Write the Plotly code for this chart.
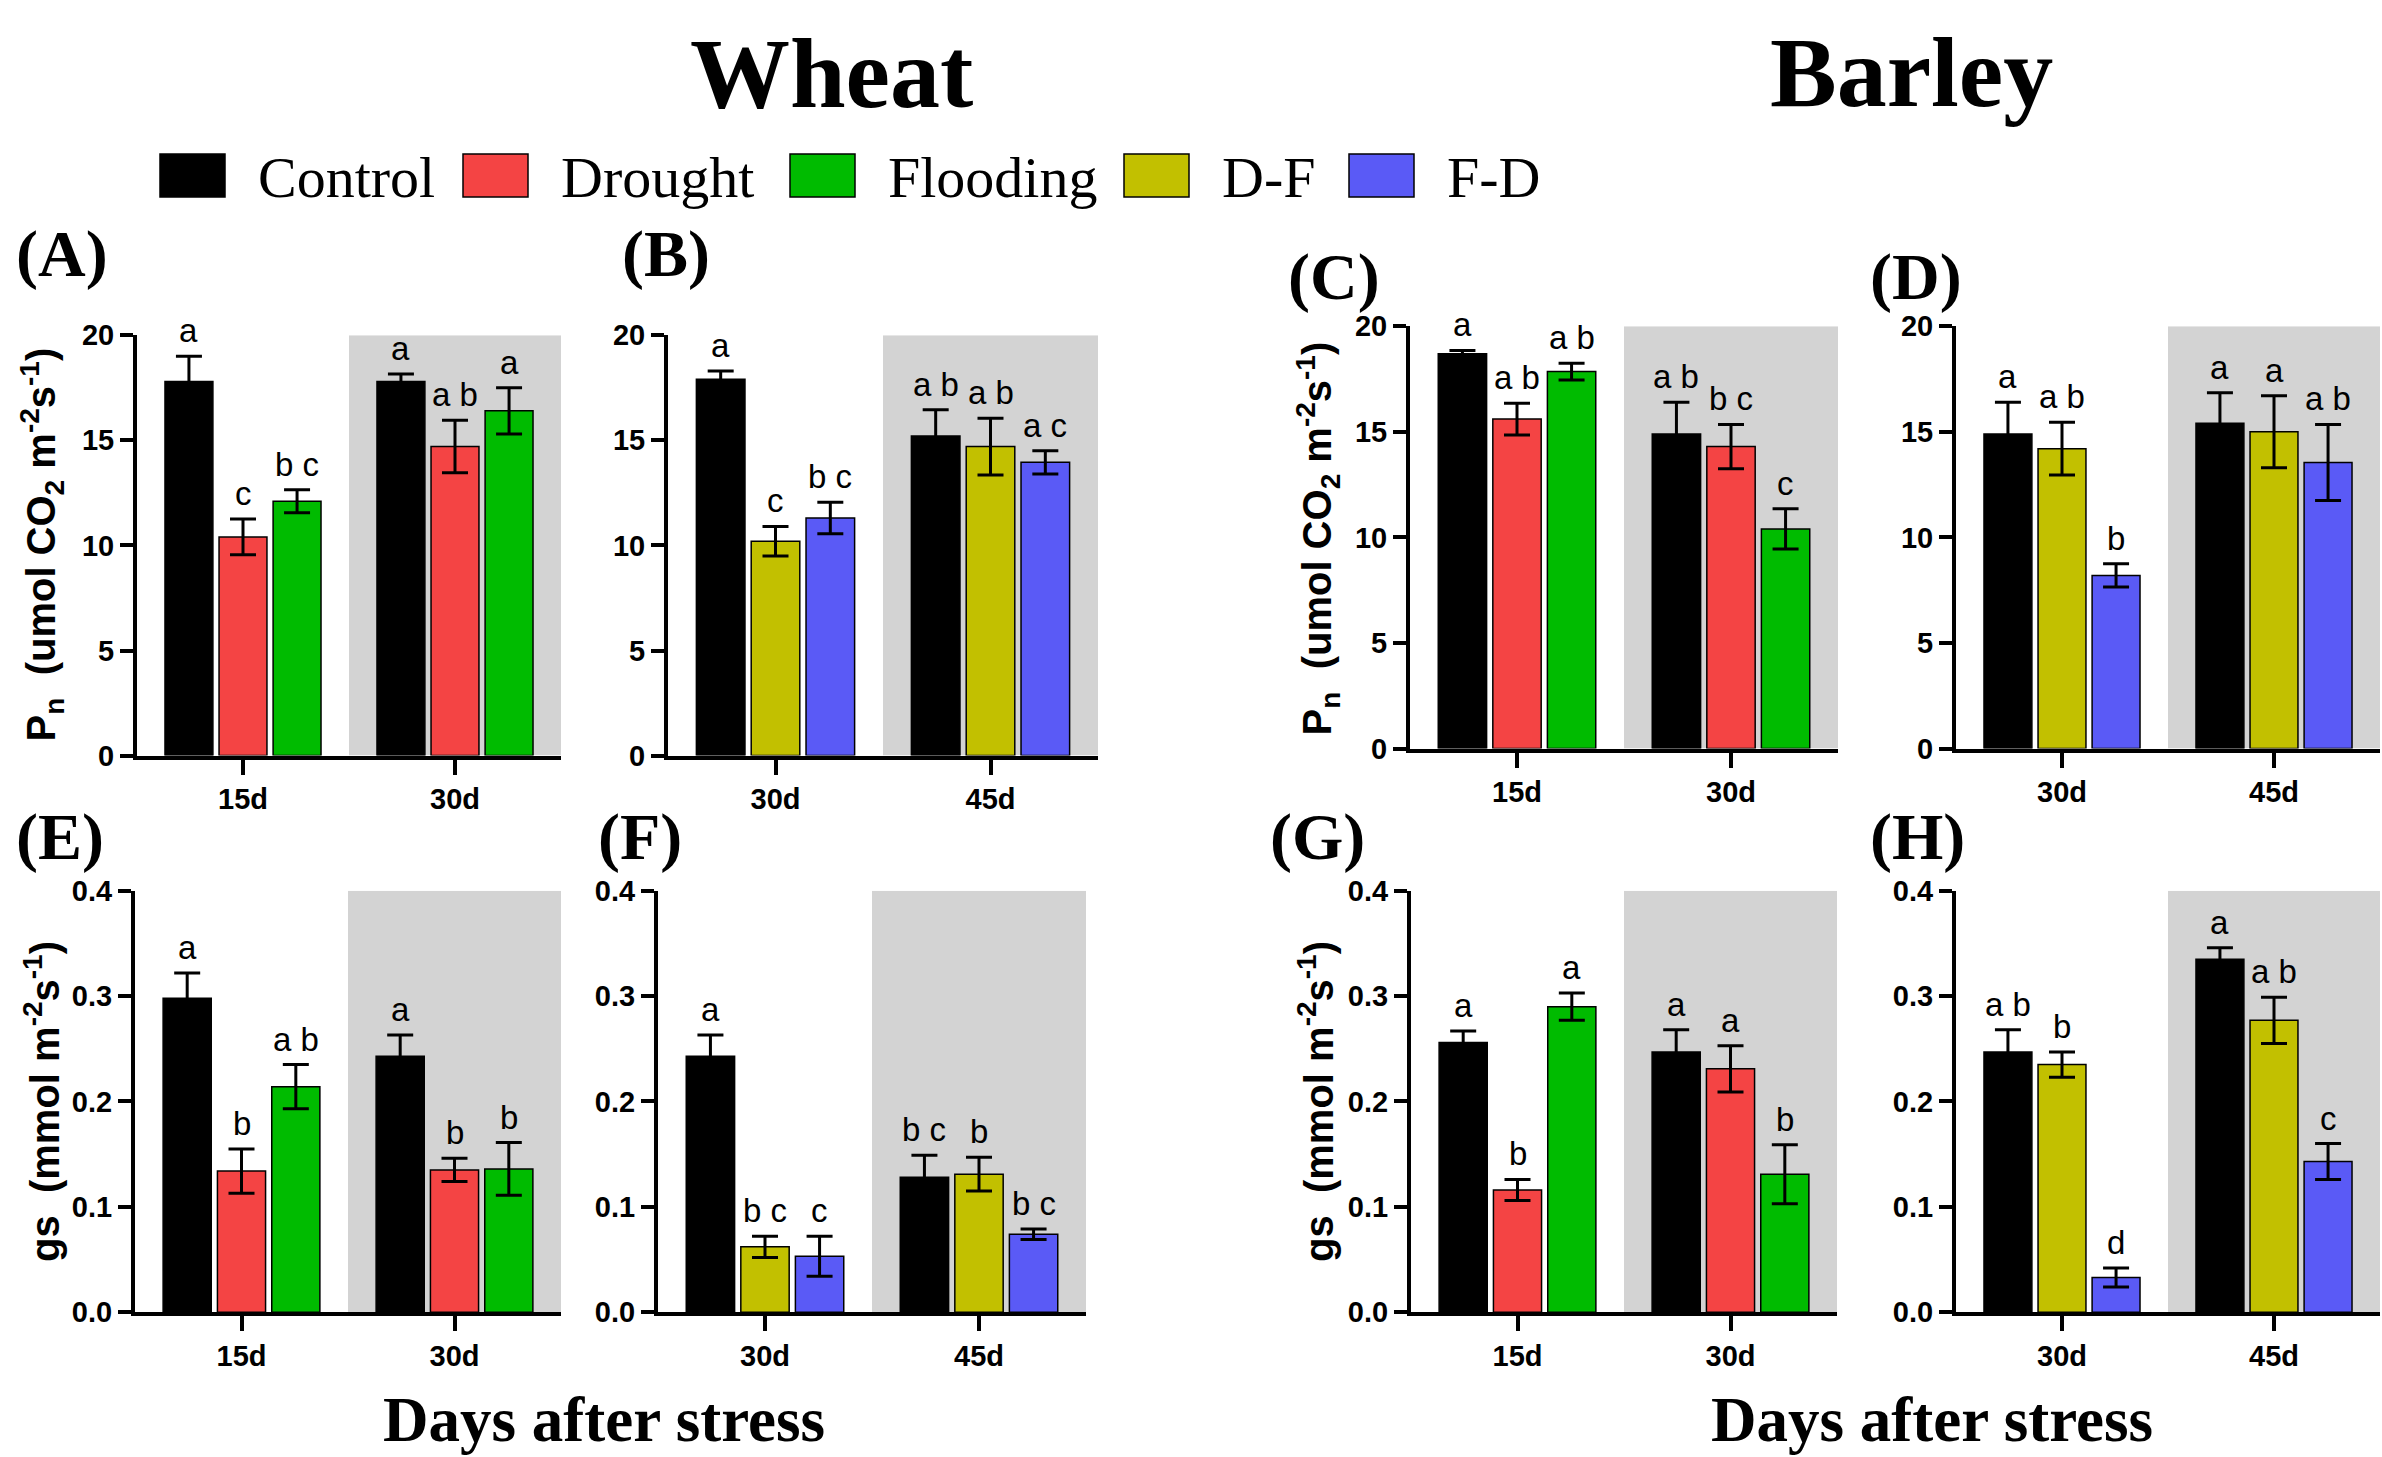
import plotly.graph_objects as go

W, H = 2382, 1457

series_names = ["Control", "Drought", "Flooding", "D-F", "F-D"]
series_colors = ["#000000", "#F44444", "#00BB00", "#C2C000", "#5A5AF6"]

days_a = ["15d", "30d"]
days_b = ["30d", "45d"]

# values per series (rows) for the two days (columns)
# (A) wheat Pn: Control / Drought / Flooding
wheat_pn_single = [[17.8, 17.8], [10.4, 14.7], [12.1, 16.4]]
wheat_pn_single_se = [[1.2, 0.35], [0.85, 1.25], [0.55, 1.1]]
wheat_pn_single_sig = [["a", "a"], ["c", "a b"], ["b c", "a"]]
# (B) wheat Pn: Control / D-F / F-D
wheat_pn_combo = [[17.9, 15.2], [10.2, 14.7], [11.3, 13.95]]
wheat_pn_combo_se = [[0.4, 1.25], [0.7, 1.35], [0.75, 0.55]]
wheat_pn_combo_sig = [["a", "a b"], ["c", "a b"], ["b c", "a c"]]
# (C) barley Pn: Control / Drought / Flooding
barley_pn_single = [[18.7, 14.9], [15.6, 14.3], [17.85, 10.4]]
barley_pn_single_se = [[0.15, 1.5], [0.75, 1.05], [0.4, 0.95]]
barley_pn_single_sig = [["a", "a b"], ["a b", "b c"], ["a b", "c"]]
# (D) barley Pn: Control / D-F / F-D
barley_pn_combo = [[14.9, 15.4], [14.2, 15.0], [8.2, 13.55]]
barley_pn_combo_se = [[1.5, 1.45], [1.25, 1.7], [0.55, 1.8]]
barley_pn_combo_sig = [["a", "a"], ["a b", "a"], ["b", "a b"]]
# (E) wheat gs: Control / Drought / Flooding
wheat_gs_single = [[0.298, 0.243], [0.134, 0.135], [0.214, 0.136]]
wheat_gs_single_se = [[0.024, 0.02], [0.021, 0.011], [0.021, 0.025]]
wheat_gs_single_sig = [["a", "a"], ["b", "b"], ["a b", "b"]]
# (F) wheat gs: Control / D-F / F-D
wheat_gs_combo = [[0.243, 0.128], [0.062, 0.131], [0.053, 0.074]]
wheat_gs_combo_se = [[0.02, 0.021], [0.01, 0.016], [0.019, 0.005]]
wheat_gs_combo_sig = [["a", "b c"], ["b c", "b"], ["c", "b c"]]
# (G) barley gs: Control / Drought / Flooding
barley_gs_single = [[0.256, 0.247], [0.116, 0.231], [0.290, 0.131]]
barley_gs_single_se = [[0.011, 0.021], [0.010, 0.022], [0.013, 0.028]]
barley_gs_single_sig = [["a", "a"], ["b", "a"], ["a", "b"]]
# (H) barley gs: Control / D-F / F-D
barley_gs_combo = [[0.247, 0.335], [0.235, 0.277], [0.033, 0.143]]
barley_gs_combo_se = [[0.021, 0.011], [0.012, 0.022], [0.009, 0.017]]
barley_gs_combo_sig = [["a b", "a"], ["b", "a b"], ["d", "c"]]

pn_ticks = [0, 5, 10, 15, 20]
gs_ticks = [0.0, 0.1, 0.2, 0.3, 0.4]

SERIF = "Liberation Serif, Times New Roman, serif"
SANS = "Liberation Sans, Arial, sans-serif"


def px(x):
    return x / W


def py(y):
    # pixel rows measured on the reference, nudged to how the page gets photographed
    yc = 1.0235 * y - 15.5
    return 1 - yc / H


single = [0, 1, 2]
combo = [0, 3, 4]

# label, series, days, means, errors, letters, ticks, x-domain px, y-domain px, label pos
panels = [
    ("(A)", single, days_a, wheat_pn_single, wheat_pn_single_se, wheat_pn_single_sig,
     pn_ticks, (137, 561), (334, 754), (14, 253)),
    ("(B)", combo, days_b, wheat_pn_combo, wheat_pn_combo_se, wheat_pn_combo_sig,
     pn_ticks, (668, 1098), (334, 754), (620, 253)),
    ("(C)", single, days_a, barley_pn_single, barley_pn_single_se, barley_pn_single_sig,
     pn_ticks, (1410, 1838), (325, 747), (1286, 276)),
    ("(D)", combo, days_b, barley_pn_combo, barley_pn_combo_se, barley_pn_combo_sig,
     pn_ticks, (1956, 2380), (325, 747), (1868, 276)),
    ("(E)", single, days_a, wheat_gs_single, wheat_gs_single_se, wheat_gs_single_sig,
     gs_ticks, (135, 561), (889, 1310), (14, 835)),
    ("(F)", combo, days_b, wheat_gs_combo, wheat_gs_combo_se, wheat_gs_combo_sig,
     gs_ticks, (658, 1086), (889, 1310), (596, 835)),
    ("(G)", single, days_a, barley_gs_single, barley_gs_single_se, barley_gs_single_sig,
     gs_ticks, (1411, 1837), (889, 1310), (1268, 835)),
    ("(H)", combo, days_b, barley_gs_combo, barley_gs_combo_se, barley_gs_combo_sig,
     gs_ticks, (1956, 2380), (889, 1310), (1868, 835)),
]

fig = go.Figure()
shapes = []
annotations = []
layout_axes = {}

slot = 0.255
bar_w = 0.226

for n, (lab, sidx, days, means, errs, sigs, ticks, xd, yd, lpos) in enumerate(panels, start=1):
    suf = "" if n == 1 else str(n)
    xr, yr = "x" + suf, "y" + suf
    ymax = ticks[-1]
    fmt = "{:.1f}" if ymax < 1 else "{:d}"

    layout_axes["xaxis" + suf] = dict(
        domain=[px(xd[0]), px(xd[1])], anchor=yr, range=[-0.5, 1.5],
        tickvals=[0, 1], ticktext=days, showline=True, linecolor="black", linewidth=4,
        ticks="outside", ticklen=15, tickwidth=4, tickcolor="black",
        tickfont=dict(family=SANS, size=29, color="black", weight="bold"),
        showgrid=False, zeroline=False, fixedrange=True)
    layout_axes["yaxis" + suf] = dict(
        domain=[py(yd[1]), py(yd[0])], anchor=xr, range=[0, ymax],
        tickvals=ticks, ticktext=[fmt.format(t) for t in ticks],
        showline=True, linecolor="black", linewidth=4,
        ticks="outside", ticklen=13, tickwidth=4, tickcolor="black",
        tickfont=dict(family=SANS, size=29, color="black", weight="bold"),
        showgrid=False, zeroline=False, fixedrange=True)

    # grey background behind the later time point
    shapes.append(dict(type="rect", xref=xr, yref=yr, x0=0.5, x1=1.5, y0=0, y1=ymax,
                       fillcolor="#D3D3D3", line=dict(width=0), layer="below"))

    for k, s in enumerate(sidx):
        xs = [g + (k - 1) * slot for g in range(len(days))]
        fig.add_trace(go.Bar(
            x=xs, y=means[k], width=bar_w, xaxis=xr, yaxis=yr, showlegend=False,
            name=series_names[s],
            marker=dict(color=series_colors[s], line=dict(color="black", width=1.5)),
            error_y=dict(type="data", array=errs[k], color="black", thickness=3, width=13)))
        for g in range(len(days)):
            annotations.append(dict(
                x=xs[g], y=means[k][g] + errs[k][g], xref=xr, yref=yr,
                text=sigs[k][g], showarrow=False, yanchor="bottom", yshift=5,
                font=dict(family=SANS, size=33, color="black")))

    annotations.append(dict(
        x=px(lpos[0]), y=py(lpos[1]), xref="paper", yref="paper", text="<b>" + lab + "</b>",
        showarrow=False, xanchor="left", yanchor="middle",
        font=dict(family=SERIF, size=66, color="black")))

# y-axis titles
pn_title = "<b>P<sub>n</sub>  (umol CO<sub>2</sub> m<sup>-2</sup>s<sup>-1</sup>)</b>"
gs_title = "<b>gs  (mmol m<sup>-2</sup>s<sup>-1</sup>)</b>"
for tx, xpos, ypos in [(pn_title, 42, 543), (pn_title, 1318, 537),
                       (gs_title, 42, 1100), (gs_title, 1316, 1100)]:
    annotations.append(dict(
        x=px(xpos), y=py(ypos), xref="paper", yref="paper", text=tx, textangle=-90,
        showarrow=False, xanchor="center", yanchor="middle",
        font=dict(family=SERIF if False else SANS, size=40, color="black")))

# crop titles (Wheat sits right at the top edge) and x titles
annotations.append(dict(
    x=px(831), y=1, xref="paper", yref="paper", text="<b>Wheat</b>",
    showarrow=False, xanchor="center", yanchor="top",
    font=dict(family=SERIF, size=100, color="black")))
for tx, xpos, ypos, size in [("Barley", 1911, 72, 100),
                             ("Days after stress", 604, 1418, 63),
                             ("Days after stress", 1932, 1418, 63)]:
    annotations.append(dict(
        x=px(xpos), y=py(ypos), xref="paper", yref="paper", text="<b>" + tx + "</b>",
        showarrow=False, xanchor="center", yanchor="middle",
        font=dict(family=SERIF, size=size, color="black")))

# legend drawn by hand
legend_left = [160, 463, 790, 1124, 1349]
for name, color, left in zip(series_names, series_colors, legend_left):
    shapes.append(dict(type="rect", xref="paper", yref="paper",
                       x0=px(left), x1=px(left + 65), y0=py(196), y1=py(153),
                       fillcolor=color, line=dict(color="black", width=1.5)))
    annotations.append(dict(
        x=px(left + 96), y=py(176), xref="paper", yref="paper", text=name,
        showarrow=False, xanchor="left", yanchor="middle",
        font=dict(family=SERIF, size=58, color="black")))

fig.update_layout(
    width=W, height=H, margin=dict(l=0, r=0, t=0, b=0),
    paper_bgcolor="white", plot_bgcolor="rgba(0,0,0,0)",
    barmode="overlay", showlegend=False,
    shapes=shapes, annotations=annotations, **layout_axes)

fig.write_html("out.html", config={"displayModeBar": False},
               post_script="document.body.style.margin='0';"
                           "document.documentElement.style.overflow='hidden';")
